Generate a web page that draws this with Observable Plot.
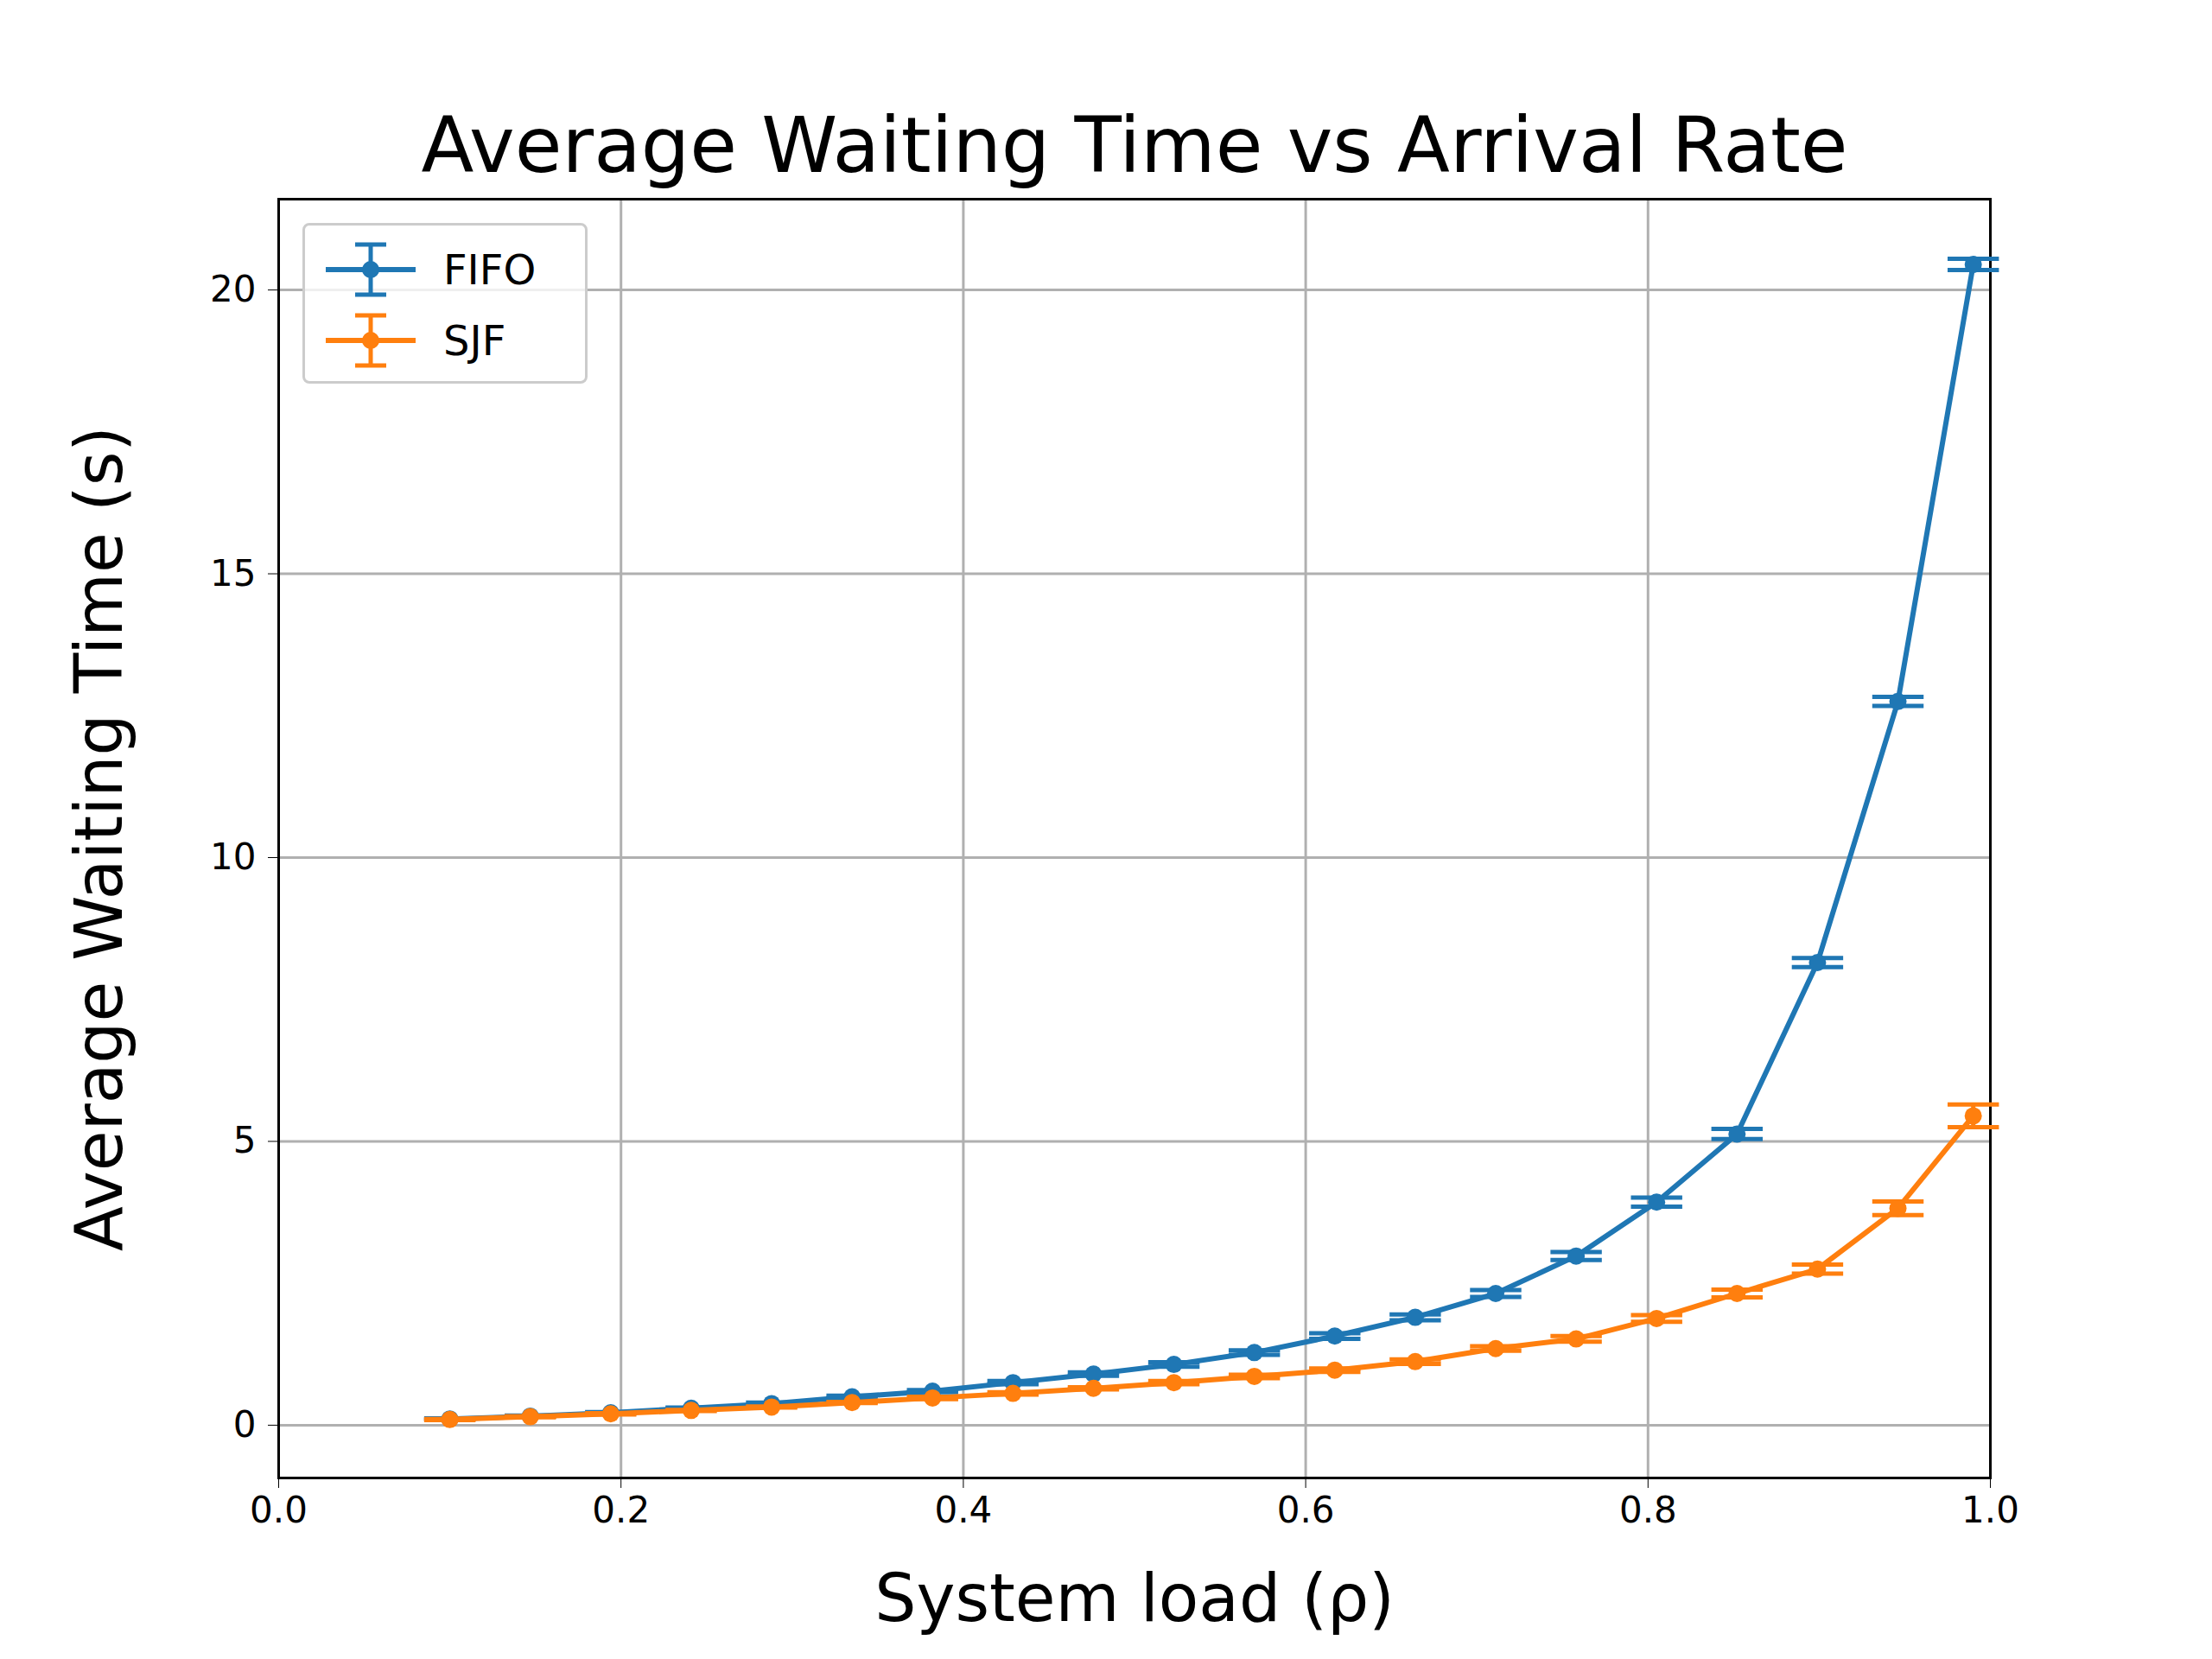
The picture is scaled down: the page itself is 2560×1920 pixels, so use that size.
<!DOCTYPE html>
<html>
<head>
<meta charset="utf-8">
<script src="https://cdn.jsdelivr.net/npm/d3@7"></script>
<script src="https://cdn.jsdelivr.net/npm/@observablehq/plot@0.6"></script>
<style>
  body { margin: 0; background: white; font-family: "DejaVu Sans", sans-serif; }
  #wrap { position: relative; width: 2560px; height: 1920px; }
  #legend { position: absolute; left: 350px; top: 258px; width: 330px; height: 186px;
    border: 3px solid #ccc; border-radius: 8px; background: rgba(255,255,255,0.8); box-sizing: border-box; }
  .item { position: absolute; left: 16px; font-size: 48px; display: flex; align-items: center; }
  .item svg { margin-right: 24px; }
</style>
</head>
<body>
<div id="wrap">
  <div id="chart"></div>
  <div id="legend">
    <div class="item" style="top:14px"><svg width="120" height="74"><line x1="8" x2="112" y1="37" y2="37" stroke="#1f77b4" stroke-width="6"/><line x1="60" x2="60" y1="8" y2="66" stroke="#1f77b4" stroke-width="5"/><line x1="42" x2="78" y1="8" y2="8" stroke="#1f77b4" stroke-width="5"/><line x1="42" x2="78" y1="66" y2="66" stroke="#1f77b4" stroke-width="5"/><circle cx="60" cy="37" r="10" fill="#1f77b4"/></svg>FIFO</div>
    <div class="item" style="top:96px"><svg width="120" height="74"><line x1="8" x2="112" y1="37" y2="37" stroke="#ff7f0e" stroke-width="6"/><line x1="60" x2="60" y1="8" y2="66" stroke="#ff7f0e" stroke-width="5"/><line x1="42" x2="78" y1="8" y2="8" stroke="#ff7f0e" stroke-width="5"/><line x1="42" x2="78" y1="66" y2="66" stroke="#ff7f0e" stroke-width="5"/><circle cx="60" cy="37" r="10" fill="#ff7f0e"/></svg>SJF</div>
  </div>
</div>
<script>
const load = [0.1, 0.147, 0.194, 0.241, 0.288, 0.335, 0.382, 0.429, 0.476, 0.523,
              0.570, 0.617, 0.664, 0.711, 0.758, 0.805, 0.852, 0.899, 0.946, 0.99]
const fifo = [0.11, 0.16, 0.22, 0.30, 0.38, 0.50, 0.60, 0.75, 0.90, 1.07,
              1.28, 1.57, 1.90, 2.32, 2.98, 3.93, 5.13, 8.15, 12.75, 20.45]
const fifoErr = [0.01, 0.01, 0.01, 0.01, 0.02, 0.02, 0.02, 0.03, 0.03, 0.04,
                 0.04, 0.05, 0.05, 0.06, 0.07, 0.08, 0.09, 0.08, 0.08, 0.1]
const sjf = [0.10, 0.15, 0.20, 0.26, 0.32, 0.40, 0.48, 0.56, 0.65, 0.75,
             0.86, 0.97, 1.12, 1.35, 1.52, 1.88, 2.32, 2.75, 3.82, 5.45]
const sjfErr = [0.01, 0.01, 0.01, 0.01, 0.01, 0.01, 0.02, 0.02, 0.02, 0.03,
                0.03, 0.03, 0.04, 0.04, 0.05, 0.06, 0.07, 0.08, 0.12, 0.2]

const series = [
  {name: "FIFO", color: "#1f77b4", y: fifo, e: fifoErr},
  {name: "SJF", color: "#ff7f0e", y: sjf, e: sjfErr}
]
const capW = 0.015

const marks = [
  Plot.gridX([0, 0.2, 0.4, 0.6, 0.8, 1.0], {stroke: "#b0b0b0", strokeOpacity: 1, strokeWidth: 3}),
  Plot.gridY([0, 5, 10, 15, 20], {stroke: "#b0b0b0", strokeOpacity: 1, strokeWidth: 3}),
  Plot.frame({stroke: "black", strokeWidth: 3}),
  Plot.text(["Average Waiting Time vs Arrival Rate"], {frameAnchor: "top", dy: -95, fontSize: 89, fill: "black"})
]
for (const s of series) {
  const d = load.map((x, i) => ({x, y: s.y[i], lo: s.y[i] - s.e[i], hi: s.y[i] + s.e[i]}))
  marks.push(
    Plot.line(d, {x: "x", y: "y", stroke: s.color, strokeWidth: 6}),
    Plot.ruleX(d, {x: "x", y1: "lo", y2: "hi", stroke: s.color, strokeWidth: 5}),
    Plot.link(d, {x1: p => p.x - capW, x2: p => p.x + capW, y1: "lo", y2: "lo", stroke: s.color, strokeWidth: 5}),
    Plot.link(d, {x1: p => p.x - capW, x2: p => p.x + capW, y1: "hi", y2: "hi", stroke: s.color, strokeWidth: 5}),
    Plot.dot(d, {x: "x", y: "y", r: 10, fill: s.color})
  )
}

const chart = Plot.plot({
  width: 2560, height: 1920,
  marginTop: 230, marginLeft: 322, marginRight: 223 + 34, marginBottom: 210,
  style: {fontFamily: "DejaVu Sans", fontSize: "42px", color: "black", background: "white"},
  x: {domain: [0, 1], ticks: [0, 0.2, 0.4, 0.6, 0.8, 1.0], tickFormat: d3.format(".1f"),
      tickSize: 12, tickPadding: 10, label: "System load (ρ)", labelAnchor: "center", labelArrow: "none", labelOffset: 165},
  y: {domain: [-0.93, 21.6], ticks: [0, 5, 10, 15, 20], tickSize: 12, tickPadding: 14,
      label: "Average Waiting Time (s)", labelAnchor: "center", labelArrow: "none", labelOffset: 235},
  marks
})
chart.querySelectorAll("g[aria-label='x-axis label'] text, g[aria-label='y-axis label'] text")
  .forEach(t => t.style.fontSize = "76px")
document.getElementById("chart").append(chart)
</script>
</body>
</html>
